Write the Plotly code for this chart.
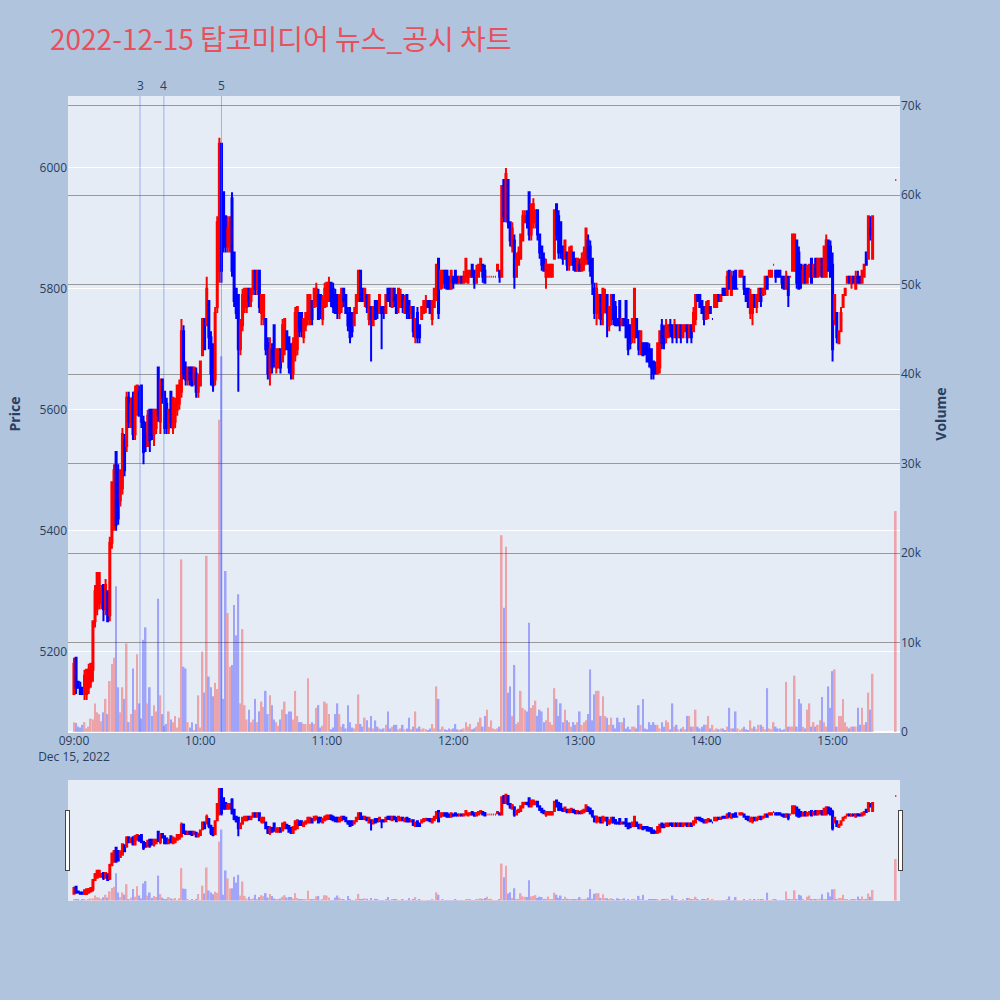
import pandas as pd
import plotly.graph_objects as go
from plotly.subplots import make_subplots

# ---- data (minute candles 09:00-15:19 plus closing auction 15:30) ----
minute_index = pd.date_range("2022-12-15 09:00", "2022-12-15 15:19", freq="min")
times = list(minute_index) + [pd.Timestamp("2022-12-15 15:30")]

opens = [
    5130,5190,5150,5140,5140,5130,5130,5140,5150,5170,
    5250,5270,5280,5280,5310,5270,5300,5260,5380,5420,
    5530,5500,5450,5470,5550,5540,5620,5580,5620,5560,
    5600,5630,5640,5580,5560,5540,5600,5600,5560,5570,
    5670,5580,5650,5630,5610,5570,5630,5570,5580,5600,
    5610,5630,5730,5670,5650,5670,5670,5650,5660,5630,
    5640,5690,5750,5740,5780,5720,5700,5650,5770,5830,
    6040,5960,5920,5870,5870,5950,5860,5800,5790,5700,
    5740,5770,5770,5800,5780,5800,5830,5800,5830,5760,
    5750,5750,5710,5660,5700,5740,5670,5670,5700,5680,
    5700,5730,5720,5700,5660,5690,5700,5760,5760,5720,
    5740,5750,5760,5780,5770,5780,5790,5790,5750,5770,
    5780,5780,5810,5800,5790,5790,5760,5770,5800,5790,
    5760,5760,5760,5740,5760,5780,5830,5800,5780,5790,
    5750,5770,5740,5780,5780,5760,5770,5770,5760,5800,
    5800,5770,5800,5790,5770,5770,5790,5760,5790,5780,
    5760,5770,5720,5760,5740,5750,5760,5770,5780,5780,
    5750,5770,5790,5850,5800,5810,5830,5830,5820,5800,
    5820,5830,5820,5810,5820,5810,5820,5810,5820,5840,
    5830,5810,5820,5830,5840,5830,5820,5820,5820,5820,
    5820,5830,5830,5820,5980,5920,5980,5910,5870,5880,
    5820,5840,5850,5880,5910,5920,5960,5890,5910,5910,
    5930,5890,5870,5850,5820,5820,5820,5820,5850,5940,
    5920,5910,5870,5850,5860,5840,5840,5860,5850,5830,
    5840,5830,5840,5850,5880,5870,5850,5800,5760,5760,
    5790,5760,5770,5790,5740,5750,5790,5770,5750,5780,
    5740,5750,5780,5740,5740,5720,5720,5750,5730,5700,
    5710,5710,5710,5700,5700,5680,5670,5660,5670,5740,
    5730,5720,5720,5740,5740,5720,5740,5720,5740,5720,
    5730,5740,5720,5740,5730,5750,5790,5790,5780,5770,
    5750,5760,5770,5750,5770,5770,5790,5780,5800,5800,
    5790,5830,5790,5820,5830,5800,5820,5820,5820,5800,
    5800,5760,5760,5790,5770,5780,5800,5790,5800,5820,
    5820,5820,5840,5830,5830,5830,5820,5820,5800,5820,
    5820,5830,5830,5880,5860,5840,5810,5840,5810,5820,
    5850,5820,5850,5820,5830,5850,5820,5820,5880,5870,
    5840,5750,5760,5710,5730,5770,5790,5810,5820,5810,
    5820,5800,5820,5820,5810,5820,5860,5850,5900,5850,
    5980,
]

highs = [
    5190,5190,5150,5150,5140,5170,5170,5180,5180,5250,
    5310,5330,5330,5310,5310,5320,5300,5390,5480,5510,
    5530,5510,5500,5570,5560,5630,5630,5620,5630,5640,
    5640,5640,5640,5590,5580,5600,5600,5600,5600,5600,
    5670,5650,5650,5630,5620,5600,5630,5620,5620,5640,
    5650,5750,5740,5680,5670,5670,5670,5670,5670,5660,
    5680,5750,5750,5820,5780,5730,5710,5770,5920,6050,
    6040,5960,5920,5920,5920,5960,5860,5800,5790,5750,
    5800,5800,5800,5800,5800,5830,5830,5830,5830,5790,
    5790,5750,5720,5720,5710,5740,5700,5700,5700,5750,
    5750,5730,5720,5710,5720,5770,5770,5760,5760,5750,
    5760,5790,5790,5780,5800,5810,5800,5790,5790,5810,
    5810,5820,5810,5810,5800,5790,5790,5800,5800,5790,
    5770,5770,5760,5770,5790,5830,5830,5800,5800,5790,
    5790,5770,5770,5780,5780,5790,5770,5770,5790,5800,
    5800,5800,5800,5790,5800,5800,5790,5790,5790,5780,
    5770,5770,5750,5770,5740,5770,5780,5790,5780,5780,
    5780,5800,5840,5850,5830,5830,5830,5830,5820,5830,
    5820,5830,5820,5820,5820,5830,5850,5830,5830,5840,
    5830,5840,5840,5850,5840,5840,5820,5820,5820,5820,
    5820,5840,5830,5970,5980,6000,5980,5910,5910,5890,
    5860,5870,5890,5930,5930,5930,5960,5940,5950,5930,
    5930,5890,5870,5860,5850,5840,5840,5840,5930,5940,
    5930,5910,5870,5880,5860,5870,5870,5860,5850,5850,
    5850,5860,5870,5900,5890,5880,5850,5810,5810,5790,
    5790,5800,5800,5790,5770,5790,5790,5780,5750,5780,
    5750,5750,5780,5750,5740,5750,5800,5750,5730,5730,
    5710,5710,5710,5710,5700,5680,5680,5710,5730,5750,
    5740,5750,5740,5750,5740,5750,5740,5740,5740,5740,
    5740,5740,5740,5740,5770,5790,5790,5790,5780,5770,
    5780,5780,5770,5750,5790,5790,5790,5790,5800,5800,
    5830,5830,5830,5830,5830,5800,5830,5830,5820,5800,
    5800,5800,5790,5790,5790,5800,5800,5800,5820,5820,
    5830,5830,5840,5830,5830,5830,5820,5820,5830,5820,
    5820,5890,5890,5880,5870,5840,5840,5840,5840,5840,
    5850,5840,5850,5850,5850,5850,5870,5890,5880,5880,
    5860,5790,5760,5730,5770,5790,5800,5820,5820,5820,
    5820,5830,5830,5820,5830,5840,5860,5920,5920,5920,
    5980,
]

lows = [
    5130,5130,5140,5130,5130,5120,5120,5130,5140,5150,
    5240,5260,5270,5270,5250,5260,5250,5250,5370,5400,
    5400,5410,5440,5460,5490,5530,5570,5570,5550,5550,
    5590,5590,5570,5510,5530,5540,5530,5550,5540,5560,
    5580,5560,5610,5560,5560,5560,5570,5560,5570,5590,
    5600,5620,5650,5640,5640,5640,5640,5640,5620,5620,
    5640,5690,5700,5740,5700,5640,5630,5640,5760,5810,
    5810,5860,5860,5860,5860,5820,5770,5750,5630,5690,
    5730,5760,5760,5770,5770,5790,5790,5790,5760,5740,
    5740,5690,5650,5640,5660,5670,5660,5670,5660,5680,
    5690,5700,5660,5650,5650,5680,5690,5720,5720,5710,
    5730,5740,5740,5740,5770,5770,5750,5750,5740,5770,
    5770,5780,5770,5760,5760,5750,5750,5760,5770,5760,
    5730,5710,5720,5740,5760,5780,5780,5780,5770,5760,
    5740,5680,5740,5750,5750,5760,5700,5750,5760,5780,
    5770,5770,5770,5760,5760,5770,5760,5760,5750,5750,
    5750,5720,5710,5710,5710,5750,5760,5760,5770,5760,
    5740,5770,5780,5750,5800,5800,5800,5800,5800,5800,
    5800,5810,5810,5810,5810,5810,5810,5810,5820,5820,
    5800,5810,5820,5830,5810,5810,5820,5820,5820,5820,
    5820,5830,5810,5820,5910,5910,5900,5870,5860,5800,
    5820,5840,5850,5880,5910,5900,5880,5880,5900,5900,
    5880,5850,5830,5830,5800,5820,5820,5820,5850,5880,
    5850,5850,5840,5850,5830,5830,5840,5830,5830,5830,
    5830,5830,5830,5840,5840,5820,5790,5750,5740,5750,
    5740,5740,5760,5720,5730,5740,5740,5740,5740,5730,
    5740,5740,5720,5690,5700,5710,5710,5720,5690,5690,
    5690,5690,5680,5670,5650,5650,5660,5660,5660,5700,
    5700,5710,5720,5720,5710,5720,5710,5720,5710,5720,
    5730,5710,5720,5710,5730,5740,5780,5770,5760,5740,
    5750,5750,5760,5750,5770,5770,5780,5780,5790,5790,
    5790,5800,5790,5800,5800,5800,5820,5820,5790,5780,
    5770,5750,5740,5770,5760,5780,5770,5790,5790,5800,
    5820,5820,5840,5810,5820,5820,5800,5800,5800,5770,
    5820,5830,5830,5800,5800,5800,5810,5810,5810,5820,
    5810,5820,5820,5820,5820,5820,5820,5820,5830,5820,
    5680,5740,5710,5710,5730,5770,5790,5810,5810,5800,
    5810,5800,5810,5810,5810,5820,5840,5850,5880,5850,
    5980,
]

closes = [
    5180,5140,5140,5130,5130,5160,5170,5170,5180,5250,
    5300,5330,5330,5300,5270,5310,5250,5380,5480,5500,
    5410,5420,5500,5560,5500,5620,5580,5610,5560,5630,
    5640,5590,5580,5530,5540,5590,5550,5560,5600,5600,
    5590,5650,5620,5570,5570,5600,5580,5620,5610,5640,
    5640,5730,5660,5650,5670,5650,5640,5670,5630,5650,
    5680,5750,5700,5800,5720,5660,5640,5760,5910,6040,
    5830,5870,5870,5900,5910,5830,5780,5760,5700,5740,
    5790,5800,5800,5780,5800,5830,5800,5830,5770,5790,
    5790,5700,5660,5700,5670,5680,5700,5700,5670,5740,
    5750,5700,5670,5660,5710,5760,5770,5730,5730,5750,
    5760,5790,5790,5750,5800,5800,5750,5760,5780,5800,
    5810,5810,5780,5770,5760,5760,5790,5800,5780,5760,
    5740,5720,5730,5760,5790,5830,5780,5780,5800,5770,
    5790,5750,5770,5750,5760,5790,5760,5760,5790,5780,
    5780,5800,5780,5760,5800,5790,5770,5780,5760,5760,
    5770,5730,5750,5720,5720,5770,5780,5780,5770,5760,
    5780,5800,5840,5760,5830,5830,5810,5800,5800,5830,
    5810,5810,5810,5820,5810,5820,5850,5830,5830,5820,
    5810,5830,5840,5850,5820,5810,5820,5820,5820,5820,
    5820,5840,5820,5970,5920,5990,5910,5880,5900,5820,
    5850,5860,5890,5920,5920,5910,5890,5940,5940,5930,
    5890,5860,5840,5830,5840,5840,5840,5840,5930,5890,
    5860,5860,5850,5880,5840,5860,5870,5840,5830,5850,
    5830,5850,5860,5900,5850,5830,5810,5760,5800,5790,
    5750,5800,5790,5760,5770,5790,5750,5740,5740,5740,
    5750,5740,5720,5700,5710,5750,5800,5720,5700,5730,
    5690,5700,5680,5680,5670,5660,5660,5710,5730,5710,
    5710,5740,5740,5730,5720,5740,5720,5740,5720,5740,
    5740,5720,5740,5720,5760,5790,5780,5770,5760,5750,
    5770,5780,5760,5750,5790,5790,5780,5790,5790,5790,
    5820,5800,5820,5800,5800,5800,5830,5830,5800,5780,
    5770,5790,5790,5770,5790,5800,5780,5800,5820,5800,
    5830,5830,5840,5820,5820,5820,5810,5800,5820,5790,
    5820,5890,5890,5810,5800,5810,5830,5810,5830,5840,
    5810,5840,5820,5850,5850,5820,5870,5880,5830,5820,
    5700,5790,5720,5730,5760,5790,5800,5820,5810,5820,
    5810,5820,5810,5810,5830,5840,5840,5920,5890,5920,
    5980,
]

volumes = [
    1100,1000,600,500,800,1100,400,600,1500,1400,
    3200,2200,2000,1200,2200,3700,2000,5700,7600,8300,
    16300,5000,2200,5000,3700,9900,1100,2000,7100,2500,
    8700,3200,1500,10300,11700,3200,5000,1800,3000,2300,
    14900,4100,2000,700,900,2300,1400,1100,1800,500,
    1600,19300,7300,7100,1100,500,1100,200,900,4100,
    500,9000,4400,19700,6200,5000,4000,5500,4800,34900,
    42000,3700,18000,13300,7300,7500,14200,10800,15400,3200,
    11500,3000,1400,2500,1100,1400,3700,1100,2300,3400,
    2800,4600,2000,4100,3000,1400,1100,700,1400,2500,
    3400,2000,2300,2300,1400,4600,1800,1100,1100,900,
    900,6000,900,1100,900,2700,3000,500,700,3400,
    3200,2000,300,500,2000,3200,2000,600,900,400,
    3000,1100,500,400,900,4200,900,600,1600,1300,
    500,1800,400,1300,600,400,300,400,800,2300,
    400,600,800,800,300,400,800,300,400,1600,
    300,600,2300,400,600,300,400,300,200,400,
    900,400,5100,3700,300,600,300,200,400,300,
    400,900,300,200,300,400,1100,600,900,300,
    400,600,1100,1600,600,1800,2500,600,1300,400,
    300,400,600,22000,13900,20700,4400,5100,1800,7500,
    900,1100,4600,2700,2500,2300,12200,2700,3000,3500,
    1800,2500,2300,1100,1300,2700,1100,800,4900,3700,
    1800,3200,1100,2500,1300,1100,600,1100,800,1100,
    2300,800,1100,1300,2000,7000,1300,4200,4600,4600,
    1800,4000,1800,1600,800,1600,800,400,1600,1100,
    1100,1600,400,600,300,600,600,400,3000,800,
    3700,400,300,1100,800,1100,800,800,400,1100,
    600,1300,1100,300,3200,600,800,300,400,600,
    300,1800,1800,600,600,2500,600,400,600,800,
    800,1800,400,800,200,400,300,400,400,200,
    600,2700,400,400,2300,400,200,400,600,300,
    200,1300,400,600,300,800,800,600,300,4900,
    400,300,1100,600,400,400,200,300,5600,600,
    600,600,6300,600,3700,3200,600,400,2500,3200,
    600,1100,600,800,1300,3900,1100,600,5100,2700,
    6800,7000,600,1800,1800,3700,1100,600,400,600,
    600,600,2700,800,2700,800,1100,4400,2500,6500,
    24700,
]

news_labels = ["3", "4", "5"]
news_times = ["2022-12-15 09:31:20", "2022-12-15 09:42:40", "2022-12-15 10:10:00"]

title_text = "2022-12-15 탑코미디어 뉴스_공시 차트"

# ---- figure ----
fig = make_subplots(specs=[[{"secondary_y": True}]])

fig.add_trace(
    go.Candlestick(
        x=times, open=opens, high=highs, low=lows, close=closes,
        increasing=dict(line=dict(color="red", width=2), fillcolor="red"),
        decreasing=dict(line=dict(color="blue", width=2), fillcolor="blue"),
        name="Price", showlegend=False,
    ),
    secondary_y=False,
)

vol_colors = ["red" if c >= o else "blue" for o, c in zip(opens, closes)]
fig.add_trace(
    go.Bar(x=times, y=volumes, marker_color=vol_colors, marker_line_width=0,
           opacity=0.3, name="Volume", showlegend=False),
    secondary_y=True,
)

for lab, t in zip(news_labels, news_times):
    fig.add_shape(type="line", xref="x", yref="paper", x0=t, x1=t, y0=0, y1=1,
                  line=dict(color="rgba(65,105,225,0.45)", width=1))
    fig.add_annotation(x=t, xref="x", y=1, yref="paper", yanchor="bottom",
                       text=lab, showarrow=False,
                       font=dict(size=12, color="#2a3f5f"))

fig.update_layout(
    width=1000, height=1000,
    paper_bgcolor="#B0C4DE",
    plot_bgcolor="#E5ECF6",
    margin=dict(l=68, r=100, t=96, b=100),
    title=dict(text=title_text, x=0.05, y=0.96, yanchor="middle",
               font=dict(family="Noto Sans CJK KR", size=28, color="#E8505B")),
    showlegend=False,
    bargap=0.2,
)
fig.update_xaxes(
    domain=[0, 1],
    range=["2022-12-15 08:57:10", "2022-12-15 15:32:00"],
    showgrid=False,
    rangeslider=dict(visible=True, thickness=0.15),
)
fig.update_yaxes(title_text="<b>Price</b>", range=[5067, 6119], automargin=False,
                 gridcolor="white", secondary_y=False)
fig.update_yaxes(title_text="<b>Volume</b>", range=[0, 71100], automargin=False,
                 showgrid=True, gridcolor="#999999", secondary_y=True)

fig.write_html("out.html", config={"displayModeBar": False},
               post_script="document.body.style.margin='0px';")
